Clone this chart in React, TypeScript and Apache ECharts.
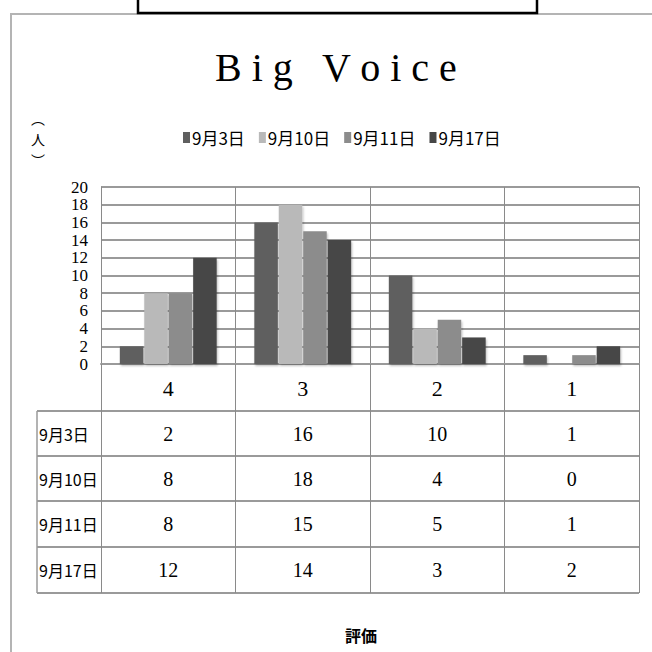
import React, { useEffect, useRef } from "react";
import * as echarts from "echarts";

// Rating categories (x axis) and the count of people per date
const categories = ["4", "3", "2", "1"];
const seriesNames = ["9月3日", "9月10日", "9月11日", "9月17日"];
const sep03 = [2, 16, 10, 1];
const sep10 = [8, 18, 4, 0];
const sep11 = [8, 15, 5, 1];
const sep17 = [12, 14, 3, 2];
const seriesColors = ["#5f5f5f", "#b9b9b9", "#8c8c8c", "#464646"];

const titleText = "B i g   V o i c e";
const yAxisName = ["︵", "人", "︶"];
const xAxisName = "評価";

// Layout of the plot and of the data table below it
const GRID_LEFT = 101;
const GRID_RIGHT = 639;
const GRID_TOP = 187;
const GRID_BOTTOM = 364;
const TABLE_LEFT = 37;
const TABLE_ROWS = [411, 456, 501, 547, 593];

const serifFont = "'Liberation Serif', 'DejaVu Serif', serif";
const cjkFont = "'Noto Sans CJK JP', 'Noto Sans CJK SC', sans-serif";

export default function App() {
  const ref = useRef<HTMLDivElement>(null);

  useEffect(() => {
    if (!ref.current) return;
    const chart = echarts.init(ref.current, undefined, { renderer: "svg" });
    const allSeries = [sep03, sep10, sep11, sep17];

    chart.setOption({
      animation: false,
      backgroundColor: "#ffffff",
      title: {
        text: titleText,
        left: 210,
        top: 42,
        textStyle: { fontFamily: serifFont, fontSize: 40, fontWeight: "normal", color: "#000" },
      },
      legend: {
        left: 178,
        top: 124,
        itemWidth: 7,
        itemHeight: 11,
        itemGap: 14,
        icon: "rect",
        textStyle: { fontFamily: cjkFont, fontSize: 17, color: "#000", padding: [0, 0, 0, -3] },
        data: seriesNames,
      },
      grid: {
        left: GRID_LEFT,
        right: 652 - GRID_RIGHT,
        top: GRID_TOP,
        bottom: 652 - GRID_BOTTOM,
        containLabel: false,
      },
      xAxis: {
        type: "category",
        data: categories,
        axisLine: { show: true, lineStyle: { color: "#9a9a9a", width: 2 } },
        axisTick: {
          show: true,
          length: TABLE_ROWS[TABLE_ROWS.length - 1] - GRID_BOTTOM,
          lineStyle: { color: "#8a8a8a", width: 1 },
        },
        splitLine: { show: true, lineStyle: { color: "#8a8a8a", width: 1 } },
        axisLabel: { fontFamily: serifFont, fontSize: 22, color: "#000", margin: 13 },
      },
      yAxis: {
        type: "value",
        min: 0,
        max: 20,
        interval: 2,
        axisLine: { show: true, lineStyle: { color: "#8a8a8a", width: 1 } },
        axisTick: { show: false },
        splitLine: { show: true, lineStyle: { color: "#9a9a9a", width: 2 } },
        axisLabel: {
          fontFamily: serifFont,
          fontSize: 17,
          lineHeight: 17,
          color: "#000",
          margin: 13,
          showMinLabel: true,
          showMaxLabel: true,
          hideOverlap: false,
        },
      },
      series: allSeries.map((data, i) => ({
        type: "bar",
        name: seriesNames[i],
        data,
        barGap: "4%",
        barCategoryGap: "28%",
        itemStyle: {
          color: seriesColors[i],
          shadowColor: "rgba(0,0,0,0.25)",
          shadowBlur: 2,
          shadowOffsetX: 1,
          shadowOffsetY: 2,
        },
      })),
    });

    // Data table below the plot, columns aligned to the category axis
    const colCenters = categories.map(
      (c) => chart.convertToPixel({ xAxisIndex: 0 }, c) as number
    );
    const graphics: any[] = [];

    // outer frame and the box above the title
    graphics.push({
      type: "polyline",
      shape: { points: [[11, 652], [11, 14], [652, 14]] },
      style: { stroke: "#b4b4b4", lineWidth: 2, fill: "none" },
      silent: true,
    });
    graphics.push({
      type: "rect",
      shape: { x: 138, y: -10, width: 399, height: 23 },
      style: { stroke: "#000", lineWidth: 2.5, fill: "none" },
      silent: true,
    });

    TABLE_ROWS.forEach((y) => {
      graphics.push({
        type: "line",
        shape: { x1: TABLE_LEFT, y1: y, x2: GRID_RIGHT, y2: y },
        style: { stroke: "#9a9a9a", lineWidth: 2 },
        silent: true,
      });
    });
    graphics.push({
      type: "line",
      shape: { x1: TABLE_LEFT, y1: TABLE_ROWS[0], x2: TABLE_LEFT, y2: TABLE_ROWS[TABLE_ROWS.length - 1] },
      style: { stroke: "#9a9a9a", lineWidth: 1.5 },
      silent: true,
    });

    allSeries.forEach((data, r) => {
      const cy = (TABLE_ROWS[r] + TABLE_ROWS[r + 1]) / 2;
      graphics.push({
        type: "text",
        x: TABLE_LEFT + 2,
        y: cy,
        style: {
          text: seriesNames[r],
          fontFamily: cjkFont,
          fontSize: 16,
          fill: "#000",
          align: "left",
          verticalAlign: "middle",
        },
      });
      data.forEach((v, c) => {
        graphics.push({
          type: "text",
          x: colCenters[c],
          y: cy,
          style: {
            text: String(v),
            fontFamily: serifFont,
            fontSize: 20,
            fill: "#000",
            align: "center",
            verticalAlign: "middle",
          },
        });
      });
    });

    graphics.push({
      type: "text",
      x: 361,
      y: 635,
      style: {
        text: xAxisName,
        fontFamily: cjkFont,
        fontSize: 16,
        fontWeight: "bold",
        fill: "#000",
        align: "center",
        verticalAlign: "middle",
      },
    });
    // vertical unit label (people), one glyph per line
    yAxisName.forEach((ch, i) => {
      graphics.push({
        type: "text",
        x: 38,
        y: 118 + i * 21,
        style: {
          text: ch,
          fontFamily: cjkFont,
          fontSize: 14,
          fill: "#000",
          align: "center",
          verticalAlign: "middle",
        },
      });
    });

    chart.setOption({ graphic: graphics });

    return () => chart.dispose();
  }, []);

  return (
    <div
      ref={ref}
      style={{ position: "fixed", left: 0, top: 0, width: 652, height: 652 }}
    />
  );
}
